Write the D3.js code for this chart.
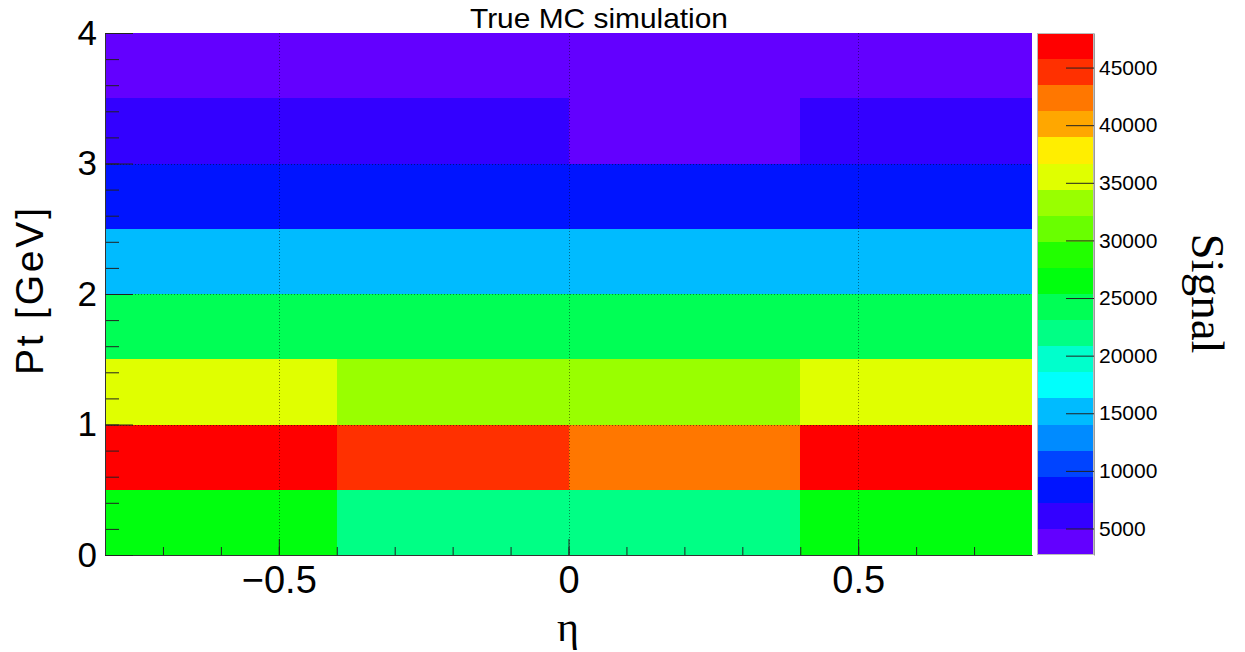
<!DOCTYPE html>
<html>
<head>
<meta charset="utf-8">
<script src="https://cdn.jsdelivr.net/npm/d3@7"></script>
<style>
  html, body { margin: 0; padding: 0; background: #fff; }
  svg { display: block; }
</style>
</head>
<body>
<svg id="chart" width="1245" height="652"></svg>
<script>
// ---- data ----
const etaEdges = [-0.8, -0.4, 0, 0.4, 0.8];
const ptEdges = [0, 0.5, 1, 1.5, 2, 2.5, 3, 3.5, 4];
// signal[ptBin][etaBin]
const signal = [
  [26400, 21900, 22100, 26600],
  [48000, 44500, 42300, 47600],
  [35600, 33200, 33400, 35500],
  [24100, 24300, 24200, 24000],
  [15200, 15100, 15000, 15300],
  [8300, 8200, 8100, 8400],
  [5400, 5300, 4800, 5350],
  [2900, 2800, 2700, 2850]
];
const xTicks = [-0.5, 0, 0.5];
const yTicks = [0, 1, 2, 3, 4];
const zTicks = [5000, 10000, 15000, 20000, 25000, 30000, 35000, 40000, 45000];
const palette = ["#6300ff","#3300ff","#0014ff","#0044ff","#008bff","#00bbff","#00fffc","#00ffcc","#00ff85","#00ff55",
                 "#00ff0e","#22ff00","#69ff00","#99ff00","#e0ff00","#ffee00","#ffa700","#ff7700","#ff3000","#ff0000"];
const title = "True MC simulation";
const xLabel = "η";
const yLabel = "Pt [GeV]";
const zLabel = "Signal";

// ---- layout ----
const svg = d3.select("#chart");
const L = 105, R = 1032, T = 33, B = 555;
const CB = {x0: 1037, x1: 1094};
const sans = "'Liberation Sans', Arial, Helvetica, sans-serif";
const serif = "'Liberation Serif', 'Times New Roman', serif";

const x = d3.scaleLinear().domain([etaEdges[0], etaEdges[etaEdges.length-1]]).range([L, R]);
const y = d3.scaleLinear().domain([ptEdges[0], ptEdges[ptEdges.length-1]]).range([B, T]);
const allVals = signal.flat();
const zExt = d3.extent(allVals);
const color = d3.scaleQuantize().domain(zExt).range(palette);

// ---- cells ----
const cells = [];
signal.forEach((row, j) => row.forEach((v, i) => cells.push({i, j, v})));
svg.append("g").selectAll("rect").data(cells).join("rect")
  .attr("x", d => x(etaEdges[d.i]))
  .attr("y", d => y(ptEdges[d.j+1]))
  .attr("width", d => x(etaEdges[d.i+1]) - x(etaEdges[d.i]))
  .attr("height", d => y(ptEdges[d.j]) - y(ptEdges[d.j+1]))
  .attr("fill", d => color(d.v))
  .attr("shape-rendering", "crispEdges");

// ---- grid ----
const grid = svg.append("g").attr("stroke", "#000").attr("stroke-opacity", 0.45)
  .attr("stroke-dasharray", "1,2").attr("stroke-width", 1);
grid.selectAll("line.v").data(xTicks).join("line").attr("class", "v")
  .attr("x1", d => Math.round(x(d)) + 0.5).attr("x2", d => Math.round(x(d)) + 0.5)
  .attr("y1", T).attr("y2", B);
grid.selectAll("line.h").data(yTicks.filter(t => t > 0 && t < 4)).join("line").attr("class", "h")
  .attr("y1", d => Math.round(y(d)) + 0.5).attr("y2", d => Math.round(y(d)) + 0.5)
  .attr("x1", L).attr("x2", R);

// ---- axes ----
function styleAxis(g) {
  g.select(".domain").attr("stroke", "#333");
  g.selectAll(".tick line").attr("stroke", "#222");
}
// x minor
svg.append("g").attr("transform", `translate(0,${B})`)
  .call(d3.axisBottom(x).tickValues(d3.range(-7, 8).map(k => k / 10)).tickSizeInner(-8).tickSizeOuter(0).tickFormat(""))
  .call(styleAxis);
// x major
const xAx = svg.append("g").attr("transform", `translate(0,${B})`)
  .call(d3.axisBottom(x).tickValues(xTicks).tickSizeInner(-16).tickSizeOuter(0).tickPadding(11)
        .tickFormat(d => d < 0 ? "\u2212" + Math.abs(d) : String(d)))
  .call(styleAxis);
xAx.selectAll("text").attr("font-family", sans).attr("font-size", 38).attr("fill", "#000");

// y minor
svg.append("g").attr("transform", `translate(${L},0)`)
  .call(d3.axisLeft(y).tickValues(d3.range(1, 20).map(k => k / 5)).tickSizeInner(-14).tickSizeOuter(0).tickFormat(""))
  .call(styleAxis);
const yAx = svg.append("g").attr("transform", `translate(${L},0)`)
  .call(d3.axisLeft(y).tickValues(yTicks).tickSizeInner(-28).tickSizeOuter(0).tickPadding(8).tickFormat(d3.format("d")))
  .call(styleAxis);
yAx.selectAll("text").attr("font-family", sans).attr("font-size", 35).attr("fill", "#000");

// ---- color bar ----
const z = d3.scaleLinear().domain(zExt).range([B, T]);
const step = (zExt[1] - zExt[0]) / palette.length;
svg.append("g").selectAll("rect").data(palette).join("rect")
  .attr("x", CB.x0).attr("width", CB.x1 - CB.x0)
  .attr("y", (c, k) => z(zExt[0] + (k + 1) * step))
  .attr("height", (c, k) => z(zExt[0] + k * step) - z(zExt[0] + (k + 1) * step))
  .attr("fill", c => c)
  .attr("shape-rendering", "crispEdges");
svg.append("rect").attr("x", CB.x0 + 0.5).attr("y", T + 0.5).attr("width", CB.x1 - CB.x0 - 1).attr("height", B - T - 1)
  .attr("fill", "none").attr("stroke", "#bbb").attr("stroke-width", 1);
const zAx = svg.append("g").attr("transform", `translate(${CB.x1},0)`)
  .call(d3.axisRight(z).tickValues(zTicks).tickSizeInner(-28).tickSizeOuter(0).tickPadding(5).tickFormat(d3.format("d")));
zAx.select(".domain").attr("stroke", "#999");
zAx.selectAll(".tick line").attr("stroke", "#222");
zAx.selectAll("text").attr("font-family", sans).attr("font-size", 21).attr("fill", "#000");

// ---- labels ----
svg.append("text").attr("x", 599).attr("y", 28).attr("text-anchor", "middle")
  .attr("font-family", sans).attr("font-size", 28).attr("textLength", 258).attr("lengthAdjust", "spacingAndGlyphs")
  .text(title);
svg.append("text").attr("x", 568).attr("y", 641).attr("text-anchor", "middle")
  .attr("font-family", serif).attr("font-size", 42).text(xLabel);
svg.append("text").attr("transform", "translate(43,291.5) rotate(-90)").attr("text-anchor", "middle")
  .attr("font-family", sans).attr("font-size", 39).attr("textLength", 167).attr("lengthAdjust", "spacing")
  .text(yLabel);
svg.append("text").attr("transform", "translate(1192,293.5) rotate(90)").attr("text-anchor", "middle")
  .attr("font-family", serif).attr("font-size", 47).text(zLabel);
</script>
</body>
</html>
